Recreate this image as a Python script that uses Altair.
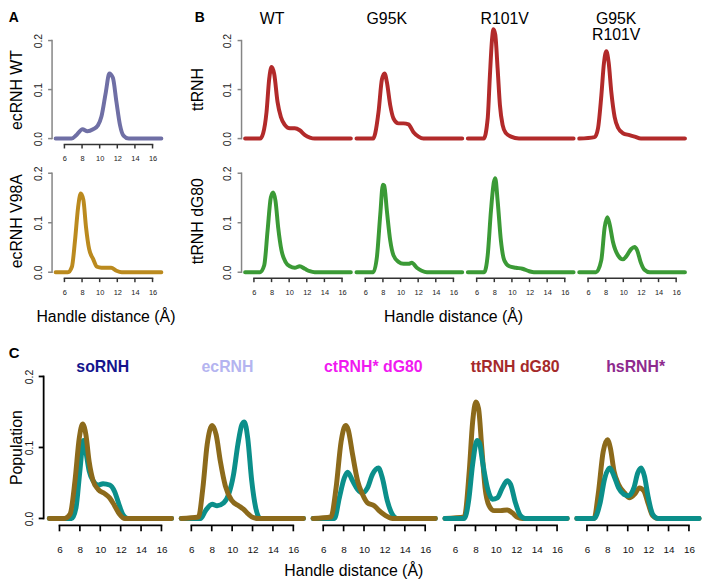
import altair as alt
import pandas as pd

FONT = "Liberation Sans"

# ---------------- data ----------------
# Panel A
ecwt_x = [5, 6.8, 7.4, 8.05, 8.6, 9.25, 9.8, 10.2, 10.7, 11.1, 11.5, 11.9, 12.3, 12.7, 13.3, 17]
ecwt_y = [0, 0, 0.008, 0.019, 0.015, 0.019, 0.027, 0.045, 0.095, 0.133, 0.124, 0.075, 0.028, 0.006, 0, 0]
ecv98_x = [5, 6.4, 6.85, 7.2, 7.55, 7.85, 8.15, 8.45, 8.8, 9.25, 9.7, 10.2, 10.8, 11.3, 11.9, 12.5, 17]
ecv98_y = [0, 0, 0.011, 0.064, 0.131, 0.159, 0.146, 0.091, 0.047, 0.027, 0.011, 0.009, 0.009, 0.009, 0.003, 0, 0]

# Panel B, ttRNH (top row)
tt_wt_x = [5, 6.7, 7.05, 7.43, 7.73, 8.0, 8.3, 8.68, 9.06, 9.5, 10.07, 10.64, 11.2, 11.8, 12.35, 12.9, 17]
tt_wt_y = [0, 0, 0.011, 0.054, 0.121, 0.146, 0.132, 0.075, 0.044, 0.028, 0.021, 0.021, 0.017, 0.007, 0.002, 0, 0]
tt_g95k_x = [5, 6.9, 7.13, 7.5, 7.89, 8.19, 8.45, 8.83, 9.2, 9.77, 10.34, 10.9, 11.47, 12.04, 12.6, 17]
tt_g95k_y = [0, 0, 0.011, 0.054, 0.121, 0.133, 0.115, 0.068, 0.041, 0.031, 0.031, 0.029, 0.013, 0.004, 0, 0]
tt_r101v_x = [5, 6.8, 7.25, 7.5, 7.74, 7.9, 8.11, 8.38, 8.64, 8.94, 9.32, 9.9, 10.8, 17]
tt_r101v_y = [0, 0, 0.041, 0.128, 0.202, 0.223, 0.212, 0.142, 0.068, 0.028, 0.011, 0.004, 0, 0]
tt_dbl_x = [5, 6.75, 7.13, 7.51, 7.81, 8.08, 8.34, 8.64, 9.02, 9.4, 9.96, 10.7, 11.28, 12.0, 17]
tt_dbl_y = [0, 0.003, 0.021, 0.088, 0.155, 0.178, 0.155, 0.095, 0.044, 0.022, 0.011, 0.007, 0.004, 0, 0]

# Panel B, ttRNH dG80 (bottom row)
dg_wt_x = [5, 6.7, 7.17, 7.55, 7.92, 8.19, 8.45, 8.75, 9.13, 9.58, 10.08, 10.64, 11.2, 11.77, 12.34, 12.9, 17]
dg_wt_y = [0, 0, 0.014, 0.084, 0.151, 0.161, 0.144, 0.091, 0.044, 0.021, 0.012, 0.009, 0.012, 0.007, 0.002, 0, 0]
dg_g95k_x = [5, 6.9, 7.32, 7.7, 8.0, 8.15, 8.45, 8.83, 9.2, 9.77, 10.34, 10.9, 11.28, 11.85, 12.4, 13.0, 17]
dg_g95k_y = [0, 0, 0.031, 0.117, 0.177, 0.175, 0.124, 0.064, 0.034, 0.021, 0.017, 0.017, 0.019, 0.009, 0.003, 0, 0]
dg_r101v_x = [5, 6.85, 7.25, 7.62, 7.95, 8.11, 8.38, 8.75, 9.13, 9.7, 10.45, 11.2, 11.96, 12.5, 17]
dg_r101v_y = [0, 0, 0.034, 0.124, 0.182, 0.19, 0.144, 0.064, 0.024, 0.012, 0.009, 0.007, 0.002, 0, 0]
dg_dbl_x = [5, 6.9, 7.5, 7.89, 8.19, 8.45, 8.83, 9.4, 9.96, 10.34, 10.9, 11.28, 11.58, 11.96, 12.4, 13.0, 17]
dg_dbl_y = [0, 0, 0.024, 0.091, 0.111, 0.097, 0.061, 0.034, 0.026, 0.032, 0.047, 0.051, 0.044, 0.021, 0.005, 0, 0]

# Panel C (teal and brown series)
so_b_x = [5, 6.5, 7.04, 7.52, 7.94, 8.27, 8.59, 8.91, 9.3, 9.79, 10.43, 10.92, 11.4, 11.89, 12.4, 17]
so_b_y = [0, 0, 0.006, 0.053, 0.113, 0.133, 0.118, 0.080, 0.053, 0.041, 0.035, 0.029, 0.018, 0.006, 0, 0]
so_t_x = [5, 7.2, 7.62, 8.0, 8.35, 8.59, 8.91, 9.3, 9.79, 10.27, 10.92, 11.4, 11.83, 12.2, 12.7, 17]
so_t_y = [0, 0, 0.015, 0.067, 0.110, 0.094, 0.067, 0.053, 0.047, 0.049, 0.047, 0.038, 0.020, 0.006, 0, 0]

ec_b_x = [5, 6.7, 7.13, 7.55, 8.04, 8.43, 8.85, 9.33, 9.98, 10.63, 11.11, 11.6, 12.1, 12.6, 17]
ec_b_y = [0, 0.002, 0.043, 0.104, 0.131, 0.118, 0.080, 0.046, 0.025, 0.018, 0.013, 0.006, 0.001, 0, 0]
ec_t_x = [5, 6.9, 7.39, 8.04, 8.52, 9.17, 9.66, 10.14, 10.56, 10.95, 11.2, 11.53, 11.92, 12.31, 12.75, 17]
ec_t_y = [0, 0, 0.011, 0.020, 0.018, 0.022, 0.034, 0.062, 0.104, 0.132, 0.136, 0.113, 0.053, 0.015, 0, 0]

ct_b_x = [5, 6.75, 7.26, 7.75, 8.2, 8.45, 8.88, 9.37, 9.85, 10.34, 11.0, 11.48, 12.12, 12.8, 17]
ct_b_y = [0, 0.002, 0.043, 0.108, 0.131, 0.125, 0.09, 0.053, 0.034, 0.022, 0.018, 0.011, 0.004, 0, 0]
ct_t_x = [5, 7.1, 7.58, 8.07, 8.4, 8.88, 9.37, 9.85, 10.34, 10.83, 11.41, 11.8, 12.28, 12.77, 13.25, 17]
ct_t_y = [0, 0, 0.029, 0.057, 0.065, 0.053, 0.041, 0.036, 0.043, 0.062, 0.071, 0.057, 0.025, 0.006, 0, 0]

ttc_b_x = [5, 6.9, 7.39, 7.72, 8.04, 8.3, 8.62, 8.94, 9.33, 9.82, 10.47, 11.11, 11.6, 12.08, 12.6, 17]
ttc_b_y = [0, 0.002, 0.067, 0.136, 0.164, 0.155, 0.099, 0.043, 0.018, 0.011, 0.011, 0.012, 0.008, 0.002, 0, 0]
ttc_t_x = [5, 6.9, 7.33, 7.72, 8.15, 8.4, 8.69, 9.17, 9.66, 10.14, 10.63, 11.11, 11.44, 11.92, 12.41, 12.9, 17]
ttc_t_y = [0, 0, 0.025, 0.076, 0.110, 0.106, 0.080, 0.043, 0.027, 0.029, 0.043, 0.053, 0.048, 0.022, 0.004, 0, 0]

hs_b_x = [5, 6.7, 7.1, 7.59, 8.0, 8.3, 8.65, 9.1, 9.69, 10.17, 10.66, 11.15, 11.57, 12.02, 12.44, 12.95, 17]
hs_b_y = [0, 0, 0.034, 0.094, 0.111, 0.099, 0.067, 0.048, 0.036, 0.029, 0.034, 0.043, 0.039, 0.020, 0.004, 0, 0]
hs_t_x = [5, 6.7, 7.26, 7.75, 8.23, 8.65, 9.1, 9.62, 10.08, 10.6, 10.98, 11.31, 11.63, 12.02, 12.44, 12.95, 17]
hs_t_y = [0, 0, 0.020, 0.057, 0.071, 0.060, 0.043, 0.034, 0.032, 0.043, 0.064, 0.071, 0.060, 0.029, 0.006, 0, 0]

x_ticks = [6, 8, 10, 12, 14, 16]
y_ticks = [0, 0.1, 0.2]
col_titles = ["WT", "G95K", "R101V", "G95K", "R101V"]
c_titles = ["soRNH", "ecRNH", "ctRNH* dG80", "ttRNH dG80", "hsRNH*"]
c_title_colors = ["#14148c", "#b4b4f0", "#f01af0", "#a52a2a", "#8e2a8e"]

# colours
EC_WT = "#6f6fa5"
EC_V98A = "#bb8a1e"
TT_RED = "#b22a2a"
TT_GREEN = "#3b9a36"
TEAL = "#0b8f8a"
BROWN = "#8c6a1b"

XSCALE = alt.Scale(domain=[6, 16], nice=False, zero=False)
YSCALE = alt.Scale(domain=[0, 0.2], nice=False, zero=False)

COMMON = dict(domain=False, ticks=False, tickSize=0, labelFlush=False,
              labelOverlap=False, grid=False)

# axis-line styles: (offset, tick length, colour, line width)
XS_AB = (6, 4, "#333333", 1.5)
YS_AB = (12.5, 4, "#858585", 1.5)
XS_C = (7, 6, "#000000", 1.7)
YS_C = (16, 5, "#000000", 1.8)


def x_axis_ab(title=None, title_x=0):
    kw = dict(values=x_ticks, format="d", labelFontSize=7.5, offset=XS_AB[0],
              labelColor="#222", labelBaseline="alphabetic", labelPadding=16,
              labelAngle=0, **COMMON)
    if title:
        kw.update(title=title, titleX=title_x, titleY=43.8, titleAlign="center",
                  titleBaseline="alphabetic", titleFontSize=16, titleFontWeight="normal",
                  titleColor="black", titleAngle=0)
    else:
        kw.update(title=None)
    return alt.Axis(**kw)


def y_axis_ab(title, title_x, title_y):
    return alt.Axis(values=y_ticks, format=".1f", labelAngle=270, labelAlign="center",
                    labelBaseline="middle", labelPadding=14, labelFontSize=10.5,
                    labelColor="#222", offset=YS_AB[0], title=title, titleAngle=270,
                    titleX=title_x, titleY=title_y, titleAlign="center",
                    titleBaseline="middle", titleFontSize=16, titleFontWeight="normal",
                    titleColor="black", **COMMON)


def x_axis_c(title=None, title_x=0):
    kw = dict(values=x_ticks, format="d", labelFontSize=10, offset=XS_C[0],
              labelColor="#111", labelBaseline="alphabetic", labelPadding=27,
              labelAngle=0, **COMMON)
    if title:
        kw.update(title=title, titleX=title_x, titleY=51, titleAlign="center",
                  titleBaseline="alphabetic", titleFontSize=16, titleFontWeight="normal",
                  titleColor="black", titleAngle=0)
    else:
        kw.update(title=None)
    return alt.Axis(**kw)


def y_axis_c():
    return alt.Axis(values=y_ticks, format=".1f", labelAngle=270, labelAlign="center",
                    labelBaseline="middle", labelPadding=13.8, labelFontSize=10.5,
                    labelColor="#111", offset=YS_C[0], title="Population", titleAngle=270,
                    titleX=-27.3, titleY=71.4, titleAlign="center", titleBaseline="middle",
                    titleFontSize=16, titleFontWeight="normal", titleColor="black", **COMMON)


def text_layer(t, x, y, size, color="black", weight="normal", align="center"):
    return alt.Chart(pd.DataFrame({"t": [t]})).mark_text(
        font=FONT, fontSize=size, color=color, fontWeight=weight, align=align,
        baseline="alphabetic").encode(text="t:N", x=alt.value(x), y=alt.value(y))


def x_axis_lines(h, style, xaxis):
    off, tl, color, lw = style
    ends = pd.DataFrame({"a": [x_ticks[0]], "b": [x_ticks[-1]]})
    dom = alt.Chart(ends).mark_rule(color=color, strokeWidth=lw, strokeCap="square").encode(
        x=alt.X("a:Q", scale=XSCALE, axis=xaxis), x2="b:Q",
        y=alt.value(h + off))
    tk = alt.Chart(pd.DataFrame({"t": x_ticks})).mark_rule(
        color=color, strokeWidth=lw).encode(
        x=alt.X("t:Q", scale=XSCALE, axis=xaxis),
        y=alt.value(h + off), y2=alt.value(h + off + tl))
    return [dom, tk]


def y_axis_lines(style, yaxis):
    off, tl, color, lw = style
    ends = pd.DataFrame({"a": [y_ticks[0]], "b": [y_ticks[-1]]})
    dom = alt.Chart(ends).mark_rule(color=color, strokeWidth=lw, strokeCap="square").encode(
        y=alt.Y("a:Q", scale=YSCALE, axis=yaxis), y2="b:Q",
        x=alt.value(-off))
    tk = alt.Chart(pd.DataFrame({"t": y_ticks})).mark_rule(
        color=color, strokeWidth=lw).encode(
        y=alt.Y("t:Q", scale=YSCALE, axis=yaxis),
        x=alt.value(-off - tl), x2=alt.value(-off))
    return [dom, tk]


def panel(lines, w, h, xaxis, yaxis, texts, sw, xstyle, ystyle):
    layers = []
    if xaxis is not None:
        layers += x_axis_lines(h, xstyle, xaxis)
    if yaxis is not None:
        layers += y_axis_lines(ystyle, yaxis)
    for xs, ys, color in lines:
        df = pd.DataFrame({"x": xs, "y": ys})
        layers.append(
            alt.Chart(df).mark_line(color=color, strokeWidth=sw, strokeCap="round",
                                    strokeJoin="round", interpolate="monotone").encode(
                x=alt.X("x:Q", scale=XSCALE, axis=xaxis),
                y=alt.Y("y:Q", scale=YSCALE, axis=yaxis)))
    for t in texts:
        layers.append(text_layer(*t))
    return alt.layer(*layers).properties(width=w, height=h)


def ab_panel(lines, h, xaxis, yaxis, texts):
    return panel(lines, W_AB, h, xaxis, yaxis, texts, 4, XS_AB, YS_AB)


def c_panel(lines, xaxis, yaxis, texts):
    return panel(lines, W_C, H_C, xaxis, yaxis, texts, 5, XS_C, YS_C)


W_AB = 89
H1, H2 = 99, 100
W_C, H_C = 103, 143.4
TOP_Y = -17  # baseline of the column headings, relative to the top row's plot area

A1 = ab_panel([(ecwt_x, ecwt_y, EC_WT)], H1, x_axis_ab(),
              y_axis_ab("ecRNH WT", -36, 49.5),
              [("A", -56.3, -19, 14, "black", "bold", "left")])
A2 = ab_panel([(ecv98_x, ecv98_y, EC_V98A)], H2,
              x_axis_ab("Handle distance (Å)", 41.4),
              y_axis_ab("ecRNH V98A", -36, 48), [])

B1 = ab_panel([(tt_wt_x, tt_wt_y, TT_RED)], H1, None,
              y_axis_ab("ttRNH", -44.1, 49),
              [("B", -59.7, -19, 14, "black", "bold", "left"),
               (col_titles[0], 18.3, TOP_Y, 16)])
B2 = ab_panel([(tt_g95k_x, tt_g95k_y, TT_RED)], H1, None, None,
              [(col_titles[1], 21.7, TOP_Y, 16)])
B3 = ab_panel([(tt_r101v_x, tt_r101v_y, TT_RED)], H1, None, None,
              [(col_titles[2], 28.3, TOP_Y, 16)])
B4 = ab_panel([(tt_dbl_x, tt_dbl_y, TT_RED)], H1, None, None,
              [(col_titles[3], 28.4, TOP_Y, 16), (col_titles[4], 28.4, -1, 16)])

B5 = ab_panel([(dg_wt_x, dg_wt_y, TT_GREEN)], H2, x_axis_ab(),
              y_axis_ab("ttRNH dG80", -44.1, 48), [])
B6 = ab_panel([(dg_g95k_x, dg_g95k_y, TT_GREEN)], H2,
              x_axis_ab("Handle distance (Å)", 88.7), None, [])
B7 = ab_panel([(dg_r101v_x, dg_r101v_y, TT_GREEN)], H2, x_axis_ab(), None, [])
B8 = ab_panel([(dg_dbl_x, dg_dbl_y, TT_GREEN)], H2, x_axis_ab(), None, [])

C1 = c_panel([(so_t_x, so_t_y, TEAL), (so_b_x, so_b_y, BROWN)], x_axis_c(), y_axis_c(),
             [("C", -51.3, -19, 15, "black", "bold", "left"),
              (c_titles[0], 43.7, -4.8, 16, c_title_colors[0], "bold")])
C2 = c_panel([(ec_t_x, ec_t_y, TEAL), (ec_b_x, ec_b_y, BROWN)], x_axis_c(), None,
             [(c_titles[1], 36.5, -4.8, 16, c_title_colors[1], "bold")])
C3 = c_panel([(ct_t_x, ct_t_y, TEAL), (ct_b_x, ct_b_y, BROWN)],
             x_axis_c("Handle distance (Å)", 30.3), None,
             [(c_titles[2], 50.6, -4.8, 16, c_title_colors[2], "bold")])
C4 = c_panel([(ttc_b_x, ttc_b_y, BROWN), (ttc_t_x, ttc_t_y, TEAL)], x_axis_c(), None,
             [(c_titles[3], 60.6, -4.8, 16, c_title_colors[3], "bold")])
C5 = c_panel([(hs_b_x, hs_b_y, BROWN), (hs_t_x, hs_t_y, TEAL)], x_axis_c(), None,
             [(c_titles[4], 49.2, -4.8, 16, c_title_colors[4], "bold")])

spacer = alt.Chart(pd.DataFrame({"v": [0]})).mark_point(opacity=0, size=1).encode(
    x=alt.value(0), y=alt.value(0)).properties(width=1, height=1)

# With bounds="flush", nested concat groups count as zero-size in the layout,
# so the spacing of a parent concat includes the extent of a nested child.
GAP_ROW = 35
GAP_AB = 102.4
GAP_B = 23.5
GAP_C = 30.2
colA = alt.vconcat(A1, A2, spacing=GAP_ROW, bounds="flush")
rowB1 = alt.hconcat(B1, B2, B3, B4, spacing=GAP_B, bounds="flush")
rowB2 = alt.hconcat(B5, B6, B7, B8, spacing=GAP_B, bounds="flush")
colB = alt.vconcat(rowB1, rowB2, spacing=H1 + GAP_ROW, bounds="flush")
ab = alt.hconcat(colA, colB, spacing=W_AB + GAP_AB, bounds="flush")
ab_block = alt.hconcat(spacer, ab, spacing=4, bounds="flush")
c_block = alt.hconcat(C1, C2, C3, C4, C5, spacing=GAP_C, bounds="flush")

chart = alt.vconcat(ab_block, c_block, spacing=H1 + GAP_ROW + H2 + 105.3, bounds="flush").properties(
    padding=0
).configure_view(stroke=None).configure_axis(
    labelFont=FONT, titleFont=FONT, grid=False
)

chart.save("out.html", embed_options={"renderer": "svg", "actions": False})
